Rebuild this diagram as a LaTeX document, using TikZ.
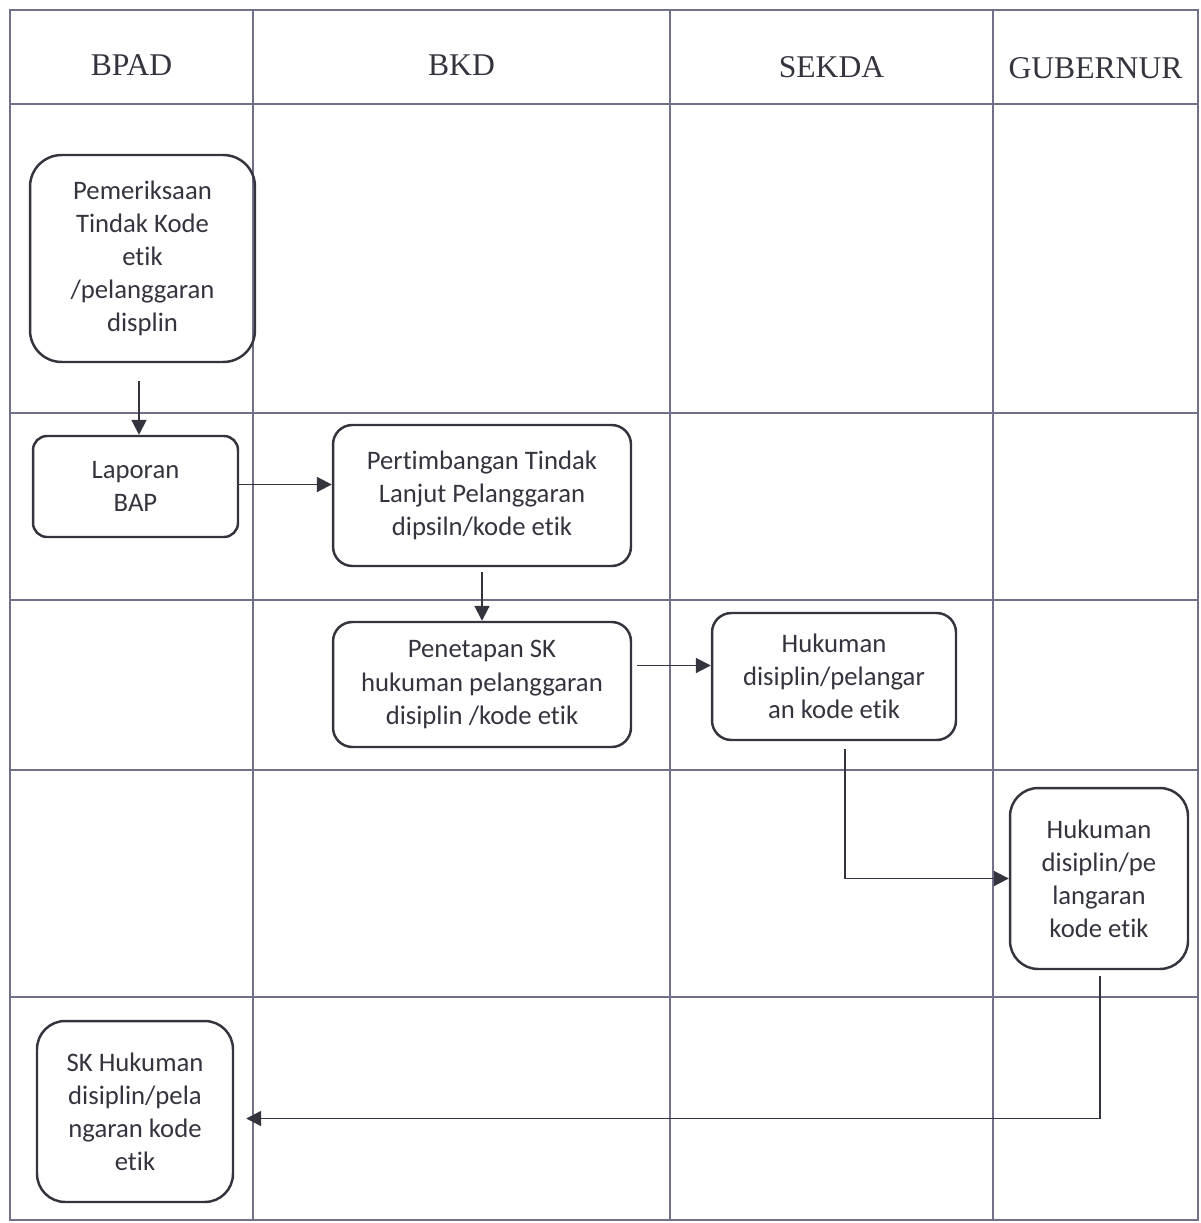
\documentclass[tikz,border=0pt]{standalone}
\usepackage{fontspec}
\setmainfont{Liberation Serif}
\newfontfamily\boxfont[Ligatures=NoCommon]{Carlito}
\usepackage{xcolor}
\usetikzlibrary{arrows.meta, positioning, calc}

\definecolor{gridgray}{HTML}{70708A}
\definecolor{inkgray}{HTML}{34343F}

\begin{document}
\begin{tikzpicture}[
  x=0.02cm, y=-0.02cm,
  laneline/.style={draw=gridgray, line width=0.7pt},
  lanehead/.style={
    text=inkgray, font=\fontsize{18}{22}\selectfont, inner sep=0pt
  },
  procbox/.style={
    draw=inkgray, line width=1.4pt, rounded corners=11pt, text=inkgray,
    align=center, inner sep=2pt,
    font={\boxfont\fontsize{15.2}{18.8}\selectfont}
  },
  flowarrow/.style={
    draw=inkgray, line width=1.1pt, -{Triangle[length=8.5pt,width=8.5pt]}
  }
]
  \useasboundingbox (0,0) rectangle (1200,1223);

  % swimlane grid
  \draw[laneline] (10,10) rectangle (1198,1220);
  \foreach \xl in {253, 670, 993}
    \draw[laneline] (\xl,10) -- (\xl,1220);
  \foreach \yl in {104, 413, 600, 770, 997}
    \draw[laneline] (10,\yl) -- (1198,\yl);

  % lane headers
  \node[lanehead] (hBPAD) at (131.5, 65) {BPAD};
  \node[lanehead] (hBKD)  at (461.5, 65) {BKD};
  \node[lanehead] (hSEKDA) at (831.5, 67) {SEKDA};
  \node[lanehead] (hGUB)  at (1095.5, 68) {GUBERNUR};

  % process boxes
  \node[procbox, rounded corners=18pt, minimum width=4.5cm, minimum height=4.14cm]
    (periksa) at (142.5, 258.5)
    {Pemeriksaan\\Tindak Kode\\etik\\/pelanggaran\\displin};
  \node[procbox, rounded corners=8pt, minimum width=4.1cm, minimum height=2.02cm]
    (lapor) at (135.5, 486.5) {Laporan\\BAP};
  \node[procbox, minimum width=5.96cm, minimum height=2.82cm]
    (timbang) at (482, 495.5)
    {Pertimbangan Tindak\\Lanjut Pelanggaran\\dipsiln/kode etik};
  \node[procbox, minimum width=5.96cm, minimum height=2.5cm]
    (tetap) at (482, 684.5)
    {Penetapan SK\\hukuman pelanggaran\\disiplin /kode etik};
  \node[procbox, minimum width=4.88cm, minimum height=2.54cm]
    (hukSekda) at (834, 676.5)
    {Hukuman\\disiplin/pelangar\\an kode etik};
  \node[procbox, rounded corners=16pt, minimum width=3.56cm, minimum height=3.62cm]
    (hukGub) at (1099, 878.5)
    {Hukuman\\disiplin/pe\\langaran\\kode etik};
  \node[procbox, rounded corners=16pt, minimum width=3.92cm, minimum height=3.62cm]
    (skHuk) at (135, 1111.5)
    {SK Hukuman\\disiplin/pela\\ngaran kode\\etik};

  % connectors
  \draw[flowarrow, shorten <=10pt] ([xshift=-2pt]periksa.south) -- ([xshift=-2pt]periksa.south |- lapor.north);
  \draw[flowarrow] ([shift={(0,-2)}]lapor.east) -- ([shift={(0,-2)}]lapor.east -| timbang.west);
  \draw[flowarrow, shorten <=3pt] (timbang.south) -- (tetap.north);
  \draw[flowarrow] ([shift={(5,-19)}]tetap.east) coordinate (tetapOut)
    -- (tetapOut -| hukSekda.west);
  \draw[flowarrow] ([shift={(11,8)}]hukSekda.south) |- (hukGub.west);
  \draw[flowarrow] ([shift={(1,6)}]hukGub.south) |- ([shift={(12,7)}]skHuk.east);
\end{tikzpicture}
\end{document}
